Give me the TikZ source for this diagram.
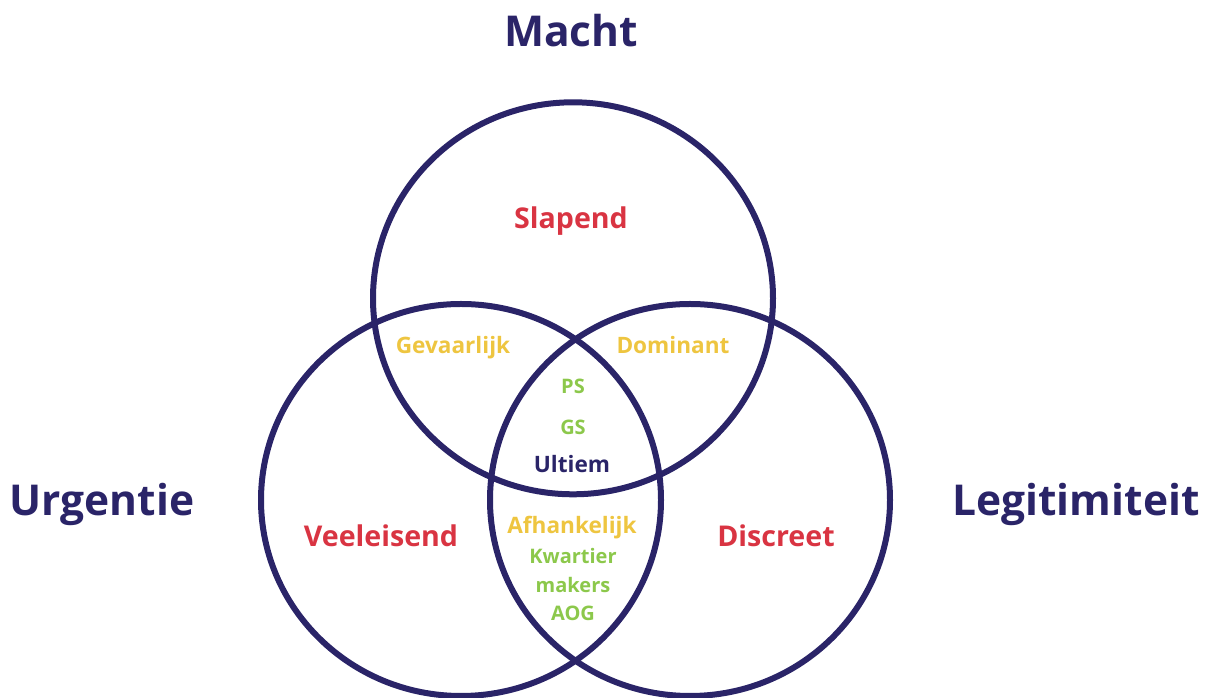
\documentclass[tikz,border=0pt]{standalone}
\usepackage{fontspec}
\setmainfont{Open Sans}
\definecolor{navy}{RGB}{42,36,104}
\definecolor{redlbl}{RGB}{217,52,66}
\definecolor{yellowlbl}{RGB}{238,197,64}
\definecolor{greenlbl}{RGB}{140,200,75}
\tikzset{
  ring/.style={draw=navy, line width=6pt},
  axis/.style={anchor=base, text=navy, font=\bfseries\fontsize{42.5}{50}\selectfont, inner sep=0pt},
  typelbl/.style={anchor=base, text=redlbl, font=\bfseries\fontsize{28.6}{34}\selectfont, inner sep=0pt},
  pairlbl/.style={anchor=base, text=yellowlbl, font=\bfseries\fontsize{22.6}{27}\selectfont, inner sep=0pt},
  corelbl/.style={anchor=base, text=navy, font=\bfseries\fontsize{22.6}{27}\selectfont, inner sep=0pt},
  example/.style={anchor=base, text=greenlbl, font=\bfseries\fontsize{20}{24}\selectfont, inner sep=0pt}
}
\begin{document}
\begin{tikzpicture}[x=1pt,y=1pt]
\useasboundingbox (0,0) rectangle (1208,698);
% circle centres: power (top), urgency (left), legitimacy (right)
\coordinate (cM) at (573,399.7);
\coordinate (cU) at (461,198);
\coordinate (cL) at (690,198);
\begin{scope}
  \clip (0,0) rectangle (1208,698);
  \draw[ring] (cM) ellipse [x radius=200, y radius=196];
  \draw[ring] (cU) ellipse [x radius=200, y radius=196];
  \draw[ring] (cL) ellipse [x radius=200, y radius=196];
\end{scope}
% attribute names
\node[axis] (macht) at (571,651) {Macht};
\node[axis] (urg) at (102,182) {Urgentie};
\node[axis] (leg) at (1076,182) {Legitimiteit};
% single-attribute regions
\node[typelbl] (slapend) at (571,469) {Slapend};
\node[typelbl] (veel) at (381,151) {Veeleisend};
\node[typelbl] (disc) at (776,151) {Discreet};
% two-attribute regions
\node[pairlbl] (gev) at (453,344) {Gevaarlijk};
\node[pairlbl] (dom) at (673,344) {Dominant};
\node[pairlbl] (afh) at (572,164) {Afhankelijk};
% three-attribute core
\node[example] (ps) at (573,304) {PS};
\node[example] (gs) at (573,263) {GS};
\node[corelbl] (ult) at (572,225) {Ultiem};
% examples below
\node[example] (kw) at (573,134) {Kwartier};
\node[example] (mk) at (573,105) {makers};
\node[example] (aog) at (573,77) {AOG};
\end{tikzpicture}
\end{document}
